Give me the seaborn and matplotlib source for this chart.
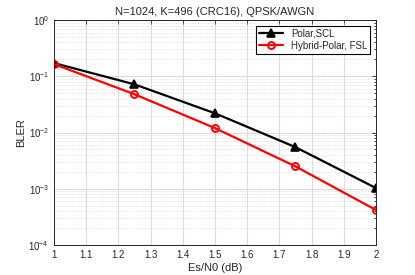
import matplotlib
matplotlib.use('Agg')
import matplotlib.pyplot as plt
import seaborn as sns
import numpy as np
from matplotlib.ticker import LogLocator, NullFormatter, MultipleLocator, FuncFormatter

esn0 = [1.0, 1.25, 1.5, 1.75, 2.0]
bler_polar_scl = [0.172, 0.072, 0.022, 0.0055, 0.00103]
bler_hybrid_fsl = [0.165, 0.048, 0.012, 0.0025, 0.00042]
series_names = ['Polar,SCL', 'Hybrid-Polar, FSL']

sns.set_theme(style="white")
plt.rcParams['font.family'] = ['Liberation Sans', 'DejaVu Sans']
plt.rcParams['font.size'] = 7

f, ax = plt.subplots(figsize=(4.15, 2.75), dpi=100)
plt.subplots_adjust(left=0.130, bottom=0.109, right=0.906, top=0.927)

sns.lineplot(x=esn0, y=bler_polar_scl, color='black', marker='^', markersize=6,
             markerfacecolor='black', markeredgecolor='black', markeredgewidth=1.2,
             linewidth=1.6, label=series_names[0], ax=ax)
sns.lineplot(x=esn0, y=bler_hybrid_fsl, color='red', marker='o', markersize=5,
             markerfacecolor='none', markeredgecolor='red', markeredgewidth=1.4,
             linewidth=1.6, label=series_names[1], ax=ax)

ax.set_yscale('log')
ax.set_xlim(1, 2)
ax.set_ylim(1e-4, 1)
ax.xaxis.set_major_locator(MultipleLocator(0.1))
ax.xaxis.set_major_formatter(FuncFormatter(lambda v, p: f'{round(v, 1):g}'))
ax.yaxis.set_major_locator(LogLocator(base=10, numticks=10))
ax.yaxis.set_minor_locator(LogLocator(base=10, subs=np.arange(2, 10), numticks=10))
ax.yaxis.set_minor_formatter(NullFormatter())

ax.grid(True, which='major', color='#dcdcdc', linewidth=0.8, linestyle='-')
ax.grid(True, which='minor', axis='y', color='#d8d8d8', linewidth=0.6, linestyle=':')
ax.tick_params(which='both', direction='in', top=True, right=True, labelsize=7,
               colors='#262626', length=3, width=0.6)
ax.tick_params(which='minor', length=1.5)
for s in ax.spines.values():
    s.set_color('#262626')
    s.set_linewidth(0.7)

ax.set_xlabel('Es/N0 (dB)', fontsize=8, color='#262626', labelpad=2)
ax.set_ylabel('BLER', fontsize=8, color='#262626', labelpad=2)
ax.set_title('N=1024, K=496 (CRC16), QPSK/AWGN', fontsize=8, color='#262626', pad=4)

leg = ax.legend(loc='upper right', fontsize=7, frameon=True, fancybox=False,
                edgecolor='black', framealpha=1, borderpad=0.3, handlelength=2.5,
                labelspacing=0.2, borderaxespad=0.6)
leg.get_frame().set_linewidth(0.8)

plt.savefig('out.png', dpi=100)
plt.close()
